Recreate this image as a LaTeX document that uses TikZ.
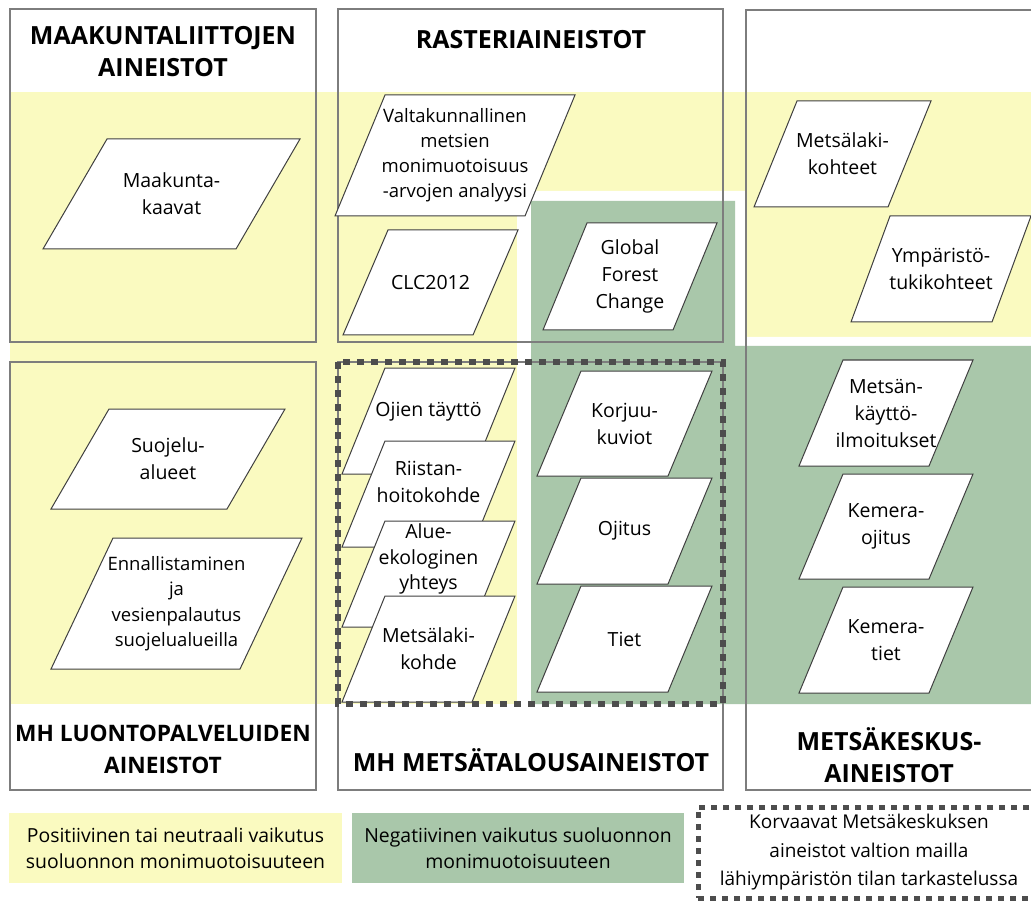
\documentclass[tikz,border=0pt]{standalone}
\usepackage{fontspec}
\setmainfont{Open Sans}
\usetikzlibrary{calc}
\definecolor{posyellow}{RGB}{250,250,192}
\definecolor{neggreen}{RGB}{169,199,170}
\definecolor{framegray}{RGB}{125,125,125}
\definecolor{dotgray}{RGB}{77,77,77}
\tikzset{
  frame/.style={draw=framegray, line width=1.2pt},
  para/.style={draw=black!75, fill=white, line width=1pt},
  paratext/.style={align=center, inner sep=0pt, font=\fontsize{19.5}{27}\selectfont},
  headtext/.style={align=center, inner sep=0pt, font=\fontsize{25}{32}\selectfont\bfseries},
  legbox/.style={align=center, inner sep=0pt, minimum height=70pt, font=\fontsize{19.4}{26}\selectfont},
  dotline/.style={draw=dotgray, line width=6pt, dash pattern=on 7pt off 7pt},
}
% parallelogram: name, top-left corner, top width, height, slant offset, text
\newcommand{\datapara}[7][]{%
  \draw[para] (#3) -- ++(#4,0) -- ++(-#6,#5) -- ++(-#4,0) -- cycle;
  \path (#3) ++({(#4-#6)/2},{#5/2}) node[paratext,#1] (#2) {#7};
}
\begin{document}
\begin{tikzpicture}[x=1pt,y=-1pt]
  \useasboundingbox (0,0) rectangle (1031,901);
  \clip (0,0) rectangle (1031,901);
  \fill[white] (0,0) rectangle (1031,901);

  % effect zones
  \fill[posyellow] (10,92) rectangle (1031,704);
  \fill[white] (517,191) -- (745,191) -- (745,337) -- (1031,337) -- (1031,704) -- (517,704) -- cycle;
  \fill[neggreen] (531,201) -- (735,201) -- (735,346) -- (1031,346) -- (1031,704) -- (531,704) -- cycle;

  % source frames
  \draw[frame] (10,9) rectangle (316,342);
  \draw[frame] (338,9) rectangle (723,342);
  \draw[frame] (746,10) rectangle (1040,790);
  \draw[frame] (10,362) rectangle (316,790);
  \draw[frame] (338,362) rectangle (723,790);

  \node[headtext] (maakTitle) at (163,52) {MAAKUNTALIITTOJEN\\AINEISTOT};
  \node[headtext] (rastTitle) at (531,40) {RASTERIAINEISTOT};
  \node[headtext, font=\fontsize{22.7}{32}\selectfont\bfseries] (luontoTitle) at (163,749) {MH LUONTOPALVELUIDEN\\AINEISTOT};
  \node[headtext] (metsaTitle) at (531,760) {MH METSÄTALOUSAINEISTOT};
  \node[headtext] (mkTitle) at (889,755) {METSÄKESKUS-\\AINEISTOT};

  % datasets
  \datapara{maakunta}{107,139}{193}{110}{64}{Maakunta-\\kaavat}
  \datapara[font=\fontsize{18.5}{25}\selectfont]{valtakunta}{385,95}{190}{121}{50}{Valtakunnallinen\\metsien\\monimuotoisuus\\-arvojen analyysi}
  \datapara{clc}{388,230}{130}{105}{45}{CLC2012}
  \datapara{gfc}{587,223}{130}{107}{44}{Global\\Forest\\Change}
  \datapara{mlkohteet}{797,101}{134}{106}{43}{Metsälaki-\\kohteet}
  \datapara{ymparisto}{890,216}{141}{106}{39}{Ympäristö-\\tukikohteet}
  \datapara{suojelu}{109,409}{176}{100}{58}{Suojelu-\\alueet}
  \datapara[font=\fontsize{18.5}{25.5}\selectfont]{ennallistus}{113,538}{189}{131}{62}{Ennallistaminen\\ja\\vesienpalautus\\suojelualueilla}
  \datapara[yshift=9pt]{ojien}{385,368}{130}{106}{43}{Ojien täyttö}
  \datapara[yshift=12pt]{riistan}{385,441}{130}{106}{43}{Riistan-\\hoitokohde}
  \datapara[yshift=15pt, font=\fontsize{19.5}{25.5}\selectfont]{alue}{385,521}{130}{106}{43}{Alue-\\ekologinen\\yhteys}
  \datapara{mlkohde}{385,596}{130}{106}{43}{Metsälaki-\\kohde}
  \datapara{korjuu}{581,371}{131}{105}{44}{Korjuu-\\kuviot}
  \datapara{ojitus}{581,478}{131}{106}{44}{Ojitus}
  \datapara{tiet}{581,586}{131}{106}{44}{Tiet}
  \datapara{mkilmo}{843,360}{130}{106}{44}{Metsän-\\käyttö-\\ilmoitukset}
  \datapara{kemojitus}{843,474}{130}{105}{44}{Kemera-\\ojitus}
  \datapara{kemtiet}{843,587}{130}{106}{44}{Kemera-\\tiet}

  % replacing datasets
  \draw[dotline] (338,362) rectangle (723,704);

  % legend
  \node[legbox, fill=posyellow, minimum width=333pt] (legPos) at (175.5,848) {Positiivinen tai neutraali vaikutus\\suoluonnon monimuotoisuuteen};
  \node[legbox, fill=neggreen, minimum width=332pt] (legNeg) at (518,848) {Negatiivinen vaikutus suoluonnon\\monimuotoisuuteen};
  \node[legbox, minimum width=342pt, minimum height=91pt, font=\fontsize{19}{28.5}\selectfont,
        draw=dotgray, line width=5pt, dash pattern=on 6pt off 6pt] (legRepl) at (869,852.5)
        {Korvaavat Metsäkeskuksen\\aineistot valtion mailla\\lähiympäristön tilan tarkastelussa};
\end{tikzpicture}
\end{document}
